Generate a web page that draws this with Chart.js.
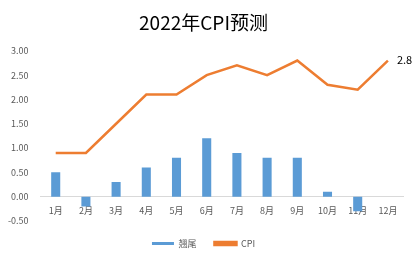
<!DOCTYPE html>
<html>
<head>
<meta charset="utf-8">
<script src="https://cdn.jsdelivr.net/npm/chart.js@4"></script>
<style>
  html, body { margin: 0; padding: 0; background: #fff; }
  #wrap { width: 415px; height: 258px; }
</style>
</head>
<body>
<div id="wrap"><canvas id="cpiChart"></canvas></div>
<script>
const months = ['1月', '2月', '3月', '4月', '5月', '6月', '7月', '8月', '9月', '10月', '11月', '12月'];
const tailValues = [0.5, -0.2, 0.3, 0.6, 0.8, 1.2, 0.9, 0.8, 0.8, 0.1, -0.3, 0];
const cpiValues = [0.9, 0.9, 1.5, 2.1, 2.1, 2.5, 2.7, 2.5, 2.8, 2.3, 2.2, 2.8];

const FONT = '"Noto Sans CJK SC", "Noto Sans", sans-serif';

// label on the last CPI point
const lastLabel = {
  id: 'lastLabel',
  afterDatasetsDraw(chart) {
    const meta = chart.getDatasetMeta(1);
    const pt = meta.data[meta.data.length - 1];
    const ctx = chart.ctx;
    ctx.save();
    ctx.font = '11px ' + FONT;
    ctx.fillStyle = '#000';
    ctx.textBaseline = 'middle';
    ctx.fillText(cpiValues[cpiValues.length - 1].toString(), pt.x + 9, pt.y - 1);
    ctx.restore();
  }
};

new Chart(document.getElementById('cpiChart').getContext('2d'), {
  data: {
    labels: months,
    datasets: [
      {
        type: 'bar',
        label: '翘尾',
        data: tailValues,
        backgroundColor: '#5B9BD5',
        barPercentage: 0.3,
        categoryPercentage: 1,
        order: 2
      },
      {
        type: 'line',
        label: 'CPI',
        data: cpiValues,
        borderColor: '#ED7D31',
        backgroundColor: '#ED7D31',
        borderWidth: 2.5,
        pointRadius: 0,
        tension: 0,
        order: 1
      }
    ]
  },
  options: {
    responsive: true,
    maintainAspectRatio: false,
    animation: false,
    layout: { padding: { left: 4, right: 12, top: 0, bottom: 0 } },
    plugins: {
      title: {
        display: true,
        text: '2022年CPI预测',
        color: '#000',
        font: { family: FONT, size: 19, weight: 'normal' },
        padding: { top: 11, bottom: 17 }
      },
      legend: {
        position: 'bottom',
        labels: {
          color: '#595959',
          font: { family: FONT, size: 9 },
          boxWidth: 22,
          boxHeight: 3,
          padding: 18,
          sort: (a, b) => a.datasetIndex - b.datasetIndex
        }
      },
      tooltip: { enabled: false }
    },
    scales: {
      x: {
        position: { y: 0 },
        grid: { display: false, drawTicks: false },
        border: { display: true, color: '#d9d9d9' },
        ticks: { color: '#595959', font: { family: FONT, size: 9 }, padding: 8 }
      },
      y: {
        min: -0.5,
        max: 3,
        grid: { display: false },
        border: { display: false },
        ticks: {
          stepSize: 0.5,
          color: '#595959',
          font: { family: FONT, size: 9 },
          padding: 4,
          callback: v => v.toFixed(2)
        }
      }
    }
  },
  plugins: [lastLabel]
});
</script>
</body>
</html>
